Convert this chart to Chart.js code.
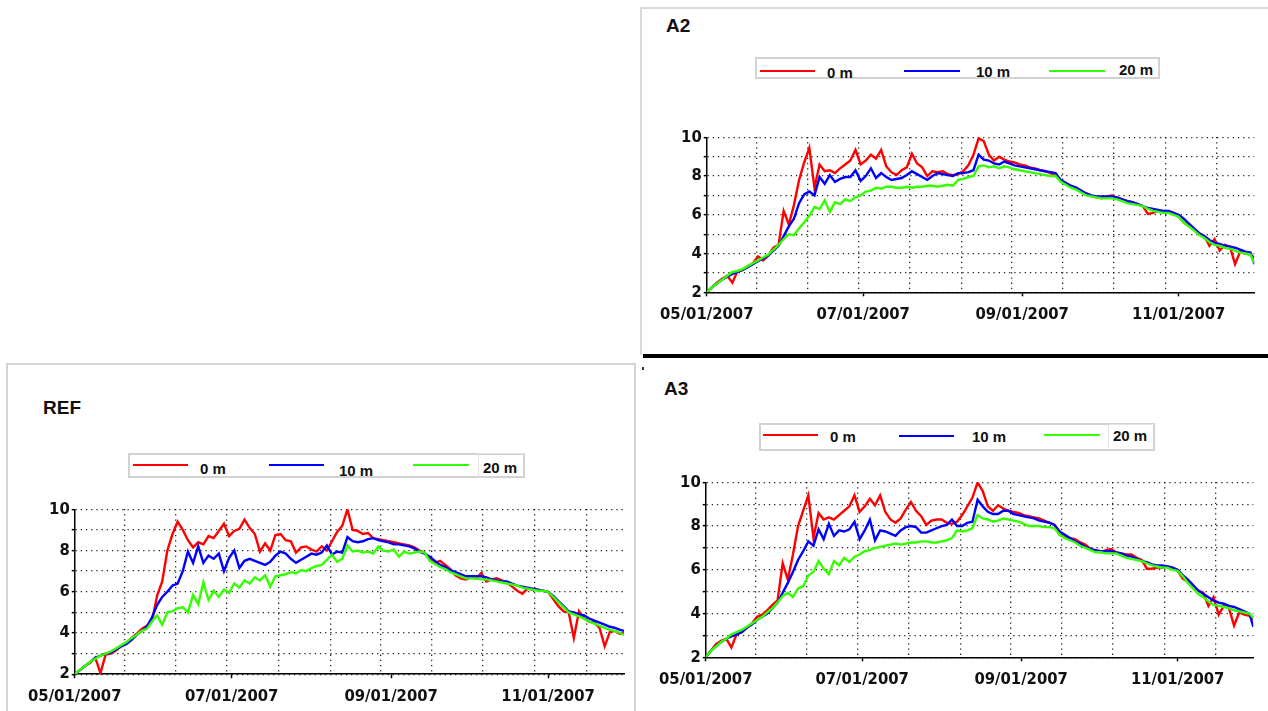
<!DOCTYPE html>
<html>
<head>
<meta charset="utf-8">
<script src="https://cdn.jsdelivr.net/npm/chart.js@4.4.1/dist/chart.umd.min.js"></script>
<style>
  html, body { margin: 0; padding: 0; background: #fff; }
  body { width: 1268px; height: 711px; position: relative; overflow: hidden; font-family: "Liberation Sans", Arial, sans-serif; }
  canvas { position: absolute; }
  .frame { position: absolute; box-sizing: border-box; }
  .ttl { position: absolute; font-weight: bold; font-size: 19px; line-height: 20px; color: #111; }
  .lgbox { position: absolute; box-sizing: border-box; border: 2px solid #d2d2d2; }
  .lgsub { position: absolute; box-sizing: border-box; border-left: 1px solid #e2e2e2; border-top: 1px solid #e2e2e2; }
  .lgline { position: absolute; height: 2px; }
  .lgtxt { position: absolute; font-weight: bold; font-size: 15px; line-height: 15px; color: #111; white-space: nowrap; }
</style>
</head>
<body>
<!-- panel frames -->
<div class="frame" style="left:6px;top:363px;width:630px;height:400px;border:2px solid #d4d4d4;"></div>
<div class="frame" style="left:640px;top:7px;width:700px;height:348px;border-left:2px solid #dadada;border-top:2px solid #dadada;"></div>
<div class="frame" style="left:643px;top:354px;width:625px;height:4px;background:#000;"></div>
<div class="frame" style="left:642px;top:367px;width:2px;height:3px;background:#333;"></div>

<!-- titles -->
<div class="ttl" style="left:666px;top:16px;">A2</div>
<div class="ttl" style="left:664px;top:379px;">A3</div>
<div class="ttl" style="left:43px;top:398px;">REF</div>

<!-- legend A2 -->
<div class="lgbox" style="left:755px;top:57px;width:405px;height:22px;"></div>
<div class="lgline" style="left:760px;top:70px;width:55px;background:#ff0000;"></div>
<div class="lgtxt" style="left:827px;top:65px;">0 m</div>
<div class="lgline" style="left:904px;top:70px;width:56px;background:#0000ff;"></div>
<div class="lgtxt" style="left:976px;top:64px;">10 m</div>
<div class="lgline" style="left:1049px;top:70px;width:56px;background:#33ff00;"></div>
<div class="lgtxt" style="left:1119px;top:62px;">20 m</div>

<!-- legend A3 -->
<div class="lgbox" style="left:759px;top:423px;width:396px;height:28px;"></div>
<div class="lgsub" style="left:1108px;top:424px;width:46px;height:26px;"></div>
<div class="lgline" style="left:763px;top:434px;width:55px;background:#ff0000;"></div>
<div class="lgtxt" style="left:830px;top:429px;">0 m</div>
<div class="lgline" style="left:899px;top:435px;width:55px;background:#0000ff;"></div>
<div class="lgtxt" style="left:972px;top:429px;">10 m</div>
<div class="lgline" style="left:1044px;top:434px;width:56px;background:#33ff00;"></div>
<div class="lgtxt" style="left:1113px;top:428px;">20 m</div>

<!-- legend REF -->
<div class="lgbox" style="left:128px;top:453px;width:397px;height:25px;"></div>
<div class="lgsub" style="left:478px;top:453px;width:47px;height:25px;"></div>
<div class="lgline" style="left:133px;top:464px;width:55px;background:#ff0000;"></div>
<div class="lgtxt" style="left:200px;top:461px;">0 m</div>
<div class="lgline" style="left:269px;top:464px;width:55px;background:#0000ff;"></div>
<div class="lgtxt" style="left:339px;top:463px;">10 m</div>
<div class="lgline" style="left:413px;top:464px;width:56px;background:#33ff00;"></div>
<div class="lgtxt" style="left:483px;top:460px;">20 m</div>

<canvas id="cA2" width="614" height="206" style="left:651px;top:123px;"></canvas>
<canvas id="cA3" width="614" height="226" style="left:650px;top:468px;"></canvas>
<canvas id="cRef" width="615" height="216" style="left:19px;top:495px;"></canvas>

<script>
// days since 05/01/2007
const days = [0,2,4,6,8,10,12,14,16,18,
  20,22,24,26,28,30,32,34,36,38,
  40,42,44,46,48,50,52,54,56,58,
  60,62,64,66,68,70,72,74,76,78,
  80,82,84,86,88,90,92,94,96,98,
  100,102,104,106,108,110,112,114,116,118,
  120,122,124,126,128,130,132,134,136,138,
  140,142,144,146,148,150,152,154,156,158,
  160,162,164,166,168,170,172,174,176,178,
  180,182,184,186,188,190,192,194,196,198,
  200,202,204,206,208,210,212,213.5];

const monthDays = [0, 61, 123, 184];
const monthLabels = ["05/01/2007", "07/01/2007", "09/01/2007", "11/01/2007"];
const gridDays = [19.3, 39.3, 59.2, 79.2, 99.3, 119, 138.8, 158.6, 178.9, 198.9];

// REF
const refRed = [2.0,2.2,2.4,2.55,2.8,2.05,2.95,3.0,3.15,3.35,
  3.5,3.75,3.95,4.2,4.35,4.55,5.8,6.5,8.0,8.8,
  9.4,9.0,8.5,8.15,8.4,8.3,8.7,8.6,8.95,9.3,
  8.7,8.95,9.05,9.5,9.1,8.8,7.95,8.35,8.0,8.75,
  8.8,8.5,8.45,7.9,8.15,8.2,8.05,7.95,8.2,8.0,
  8.45,8.9,9.2,10.0,9.0,8.95,8.8,8.85,8.6,8.55,
  8.5,8.45,8.4,8.35,8.3,8.25,8.15,8.0,7.9,7.55,
  7.4,7.5,7.3,7.1,6.8,6.65,6.6,6.7,6.65,6.9,
  6.5,6.6,6.65,6.55,6.45,6.25,6.05,5.9,6.15,6.1,
  6.1,6.05,6.0,5.65,5.3,5.05,5.0,3.75,5.05,4.7,
  4.55,4.5,4.25,3.35,4.05,4.1,3.95,4.0];
const refBlue = [2.0,2.2,2.4,2.6,2.8,2.9,3.0,3.05,3.2,3.35,
  3.45,3.65,3.9,4.1,4.3,4.75,5.35,5.75,6.0,6.3,
  6.4,7.0,7.95,7.4,8.2,7.4,7.75,7.6,7.85,7.0,
  7.65,8.0,7.15,7.5,7.6,7.5,7.4,7.3,7.45,7.75,
  7.95,7.85,7.6,7.4,7.55,7.7,7.85,7.8,7.9,8.25,
  7.8,7.95,7.9,8.65,8.45,8.4,8.45,8.55,8.6,8.5,
  8.45,8.4,8.3,8.3,8.25,8.2,8.1,7.95,7.85,7.7,
  7.5,7.3,7.2,7.05,6.95,6.85,6.75,6.75,6.75,6.75,
  6.7,6.6,6.55,6.5,6.5,6.4,6.3,6.25,6.2,6.15,
  6.1,6.05,6.0,5.8,5.55,5.3,5.05,5.0,4.9,4.85,
  4.7,4.6,4.5,4.4,4.3,4.25,4.15,4.1];
const refGreen = [2.0,2.2,2.4,2.6,2.75,2.9,3.0,3.1,3.25,3.4,
  3.55,3.75,3.9,4.1,4.2,4.55,4.85,4.4,5.0,5.05,
  5.2,5.25,5.0,5.85,5.4,6.45,5.6,6.05,5.75,6.1,
  5.95,6.4,6.2,6.55,6.4,6.7,6.55,6.8,6.25,6.75,
  6.8,6.85,6.95,6.9,7.05,7.0,7.15,7.25,7.3,7.55,
  7.8,7.45,7.6,8.25,7.95,8.0,7.9,7.95,7.85,8.2,
  8.0,7.95,8.05,7.7,7.95,7.85,7.9,7.95,7.9,7.5,
  7.35,7.2,7.1,6.95,6.85,6.75,6.65,6.65,6.65,6.6,
  6.6,6.55,6.5,6.45,6.4,6.35,6.3,6.2,6.15,6.1,
  6.05,6.05,6.0,5.75,5.5,5.25,5.0,4.9,4.8,4.7,
  4.55,4.45,4.35,4.25,4.15,4.1,4.0,3.9];

// A2
const a2Red = [2.0,2.25,2.5,2.7,2.85,2.5,3.1,3.15,3.35,3.5,
  3.85,3.65,3.9,4.3,4.45,6.2,5.5,6.5,7.8,8.7,
  9.45,7.4,8.6,8.25,8.3,8.15,8.4,8.6,8.8,9.35,
  8.6,8.8,9.1,8.9,9.35,8.5,8.2,8.05,8.3,8.45,
  9.15,8.65,8.45,8.0,8.25,8.2,8.25,8.1,8.05,8.1,
  8.25,8.55,9.1,9.95,9.8,9.1,8.8,9.0,8.85,8.75,
  8.7,8.6,8.55,8.45,8.4,8.3,8.25,8.15,8.05,7.75,
  7.6,7.45,7.4,7.2,7.1,6.95,6.9,6.85,6.95,7.0,
  6.85,6.8,6.7,6.65,6.55,6.45,6.05,6.1,6.2,6.15,
  6.2,6.1,5.9,5.6,5.45,5.25,5.05,4.9,4.4,4.75,
  4.15,4.45,4.35,3.45,4.1,4.0,3.95,3.8];
const a2Blue = [2.0,2.25,2.45,2.65,2.8,2.95,3.05,3.15,3.3,3.45,
  3.6,3.75,3.9,4.15,4.4,4.9,5.4,5.8,6.6,7.05,
  7.2,7.0,7.95,7.6,8.05,7.7,7.85,7.95,7.95,8.3,
  7.75,8.0,8.4,7.9,8.15,7.95,7.8,7.85,7.9,8.05,
  8.25,8.1,7.95,7.8,8.0,8.15,8.1,8.05,8.0,8.15,
  8.15,8.2,8.3,9.1,8.85,8.8,8.65,8.6,8.75,8.65,
  8.55,8.5,8.45,8.4,8.35,8.3,8.25,8.2,8.15,7.8,
  7.65,7.5,7.4,7.25,7.1,7.0,6.95,6.95,6.95,6.95,
  6.9,6.8,6.7,6.65,6.55,6.45,6.35,6.3,6.25,6.2,
  6.2,6.1,6.0,5.8,5.55,5.3,5.05,4.9,4.7,4.55,
  4.5,4.4,4.35,4.3,4.2,4.1,4.05,3.45];
const a2Green = [2.0,2.25,2.45,2.65,2.85,3.05,3.1,3.2,3.35,3.5,
  3.65,3.8,3.95,4.2,4.45,4.75,5.0,4.95,5.3,5.6,
  5.95,6.4,6.3,6.75,6.15,6.65,6.55,6.8,6.7,6.9,
  7.0,7.2,7.25,7.4,7.35,7.45,7.45,7.4,7.4,7.45,
  7.4,7.45,7.45,7.5,7.5,7.45,7.5,7.55,7.5,7.8,
  7.85,7.95,8.0,8.5,8.55,8.45,8.5,8.4,8.5,8.45,
  8.35,8.3,8.25,8.2,8.15,8.1,8.05,8.0,8.0,7.7,
  7.55,7.4,7.3,7.15,7.0,6.95,6.9,6.85,6.85,6.85,
  6.8,6.7,6.6,6.55,6.5,6.45,6.3,6.2,6.15,6.1,
  6.1,6.0,5.9,5.6,5.4,5.2,4.95,4.8,4.6,4.45,
  4.4,4.3,4.25,4.15,4.05,4.0,3.95,3.5];

// A3
const a3Red = [2.0,2.3,2.6,2.75,2.85,2.45,3.05,3.15,3.35,3.55,
  3.85,3.95,4.15,4.4,4.6,6.3,5.55,6.7,8.0,8.7,
  9.4,7.45,8.6,8.3,8.4,8.3,8.5,8.7,8.9,9.4,
  8.65,8.9,9.25,8.95,9.4,8.65,8.3,8.15,8.35,8.75,
  9.1,8.7,8.45,8.05,8.25,8.3,8.3,8.15,8.1,8.2,
  8.5,8.9,9.3,10.0,9.6,8.9,8.7,8.95,8.8,8.7,
  8.65,8.6,8.5,8.45,8.4,8.35,8.25,8.15,8.05,7.6,
  7.5,7.45,7.4,7.25,7.15,6.95,6.85,6.8,6.9,6.95,
  6.8,6.75,6.7,6.7,6.55,6.45,6.05,6.05,6.1,6.1,
  6.15,6.1,5.95,5.6,5.45,5.25,5.05,4.95,4.35,4.75,
  3.95,4.35,4.25,3.45,4.05,3.95,3.9,3.75];
const a3Blue = [2.0,2.3,2.5,2.7,2.85,2.95,3.05,3.15,3.35,3.5,
  3.7,3.85,4.0,4.25,4.5,4.95,5.4,5.9,6.45,6.85,
  7.3,7.1,7.85,7.4,8.1,7.55,7.8,7.75,7.85,8.2,
  7.4,7.8,8.3,7.35,7.8,7.75,7.65,7.55,7.8,7.95,
  8.0,7.95,7.7,7.7,7.8,7.9,8.0,8.05,8.3,8.0,
  8.0,8.15,8.2,9.2,8.9,8.65,8.55,8.55,8.7,8.7,
  8.55,8.5,8.45,8.4,8.35,8.25,8.2,8.15,8.05,7.75,
  7.6,7.45,7.3,7.2,7.05,6.95,6.9,6.85,6.85,6.85,
  6.8,6.75,6.65,6.6,6.5,6.4,6.35,6.25,6.2,6.2,
  6.15,6.1,6.0,5.75,5.55,5.3,5.05,4.9,4.75,4.6,
  4.5,4.45,4.35,4.3,4.2,4.1,4.0,3.4];
const a3Green = [2.0,2.3,2.5,2.7,2.85,3.05,3.15,3.25,3.4,3.55,
  3.7,3.85,4.05,4.25,4.5,4.8,4.95,4.75,5.15,5.25,
  5.75,5.9,6.4,6.05,5.8,6.4,6.2,6.55,6.35,6.6,
  6.7,6.85,6.9,7.0,7.05,7.1,7.15,7.2,7.15,7.2,
  7.25,7.25,7.3,7.3,7.25,7.25,7.3,7.35,7.45,7.8,
  7.75,7.8,7.9,8.5,8.35,8.3,8.2,8.25,8.35,8.3,
  8.25,8.2,8.1,8.0,8.0,8.0,7.95,7.95,7.9,7.6,
  7.45,7.35,7.25,7.1,7.0,6.9,6.8,6.8,6.75,6.75,
  6.75,6.65,6.55,6.5,6.45,6.4,6.3,6.2,6.15,6.1,
  6.1,6.0,5.95,5.7,5.4,5.15,4.9,4.75,4.55,4.4,
  4.35,4.3,4.25,4.15,4.1,4.05,4.0,3.8];

const RED = "#ff0000";
const BLUE = "#0000ff";
const GREEN = "#33ff00";
const GRID = "rgba(0,0,0,0.85)";
const tickFont = { family: "'DejaVu Sans Condensed', 'DejaVu Sans', sans-serif", size: 16.5, weight: "bold" };

function pts(vals) {
  return days.map((d, i) => ({ x: d, y: vals[i] }));
}

function makeChart(id, red, blue, green, g) {
  return new Chart(document.getElementById(id), {
    type: "line",
    data: {
      datasets: [
        { label: "0 m", data: pts(red), borderColor: RED, backgroundColor: RED, order: 3 },
        { label: "10 m", data: pts(blue), borderColor: BLUE, backgroundColor: BLUE, order: 2 },
        { label: "20 m", data: pts(green), borderColor: GREEN, backgroundColor: GREEN, order: 1 },
      ],
    },
    options: {
      responsive: false,
      animation: false,
      events: [],
      layout: { padding: { left: 0, right: g.padRight, top: g.padTop, bottom: 0 } },
      elements: {
        point: { radius: 0 },
        line: { borderWidth: 2.4, tension: 0 },
      },
      plugins: { legend: { display: false }, tooltip: { enabled: false }, title: { display: false } },
      scales: {
        x: {
          type: "linear",
          min: 0,
          max: 213.5,
          afterBuildTicks: (s) => { s.ticks = monthDays.map((v) => ({ value: v })); },
          afterFit: (s) => { s.height = g.xh; },
          ticks: {
            autoSkip: false,
            maxRotation: 0,
            padding: 9,
            color: "#111",
            font: tickFont,
            callback: (v) => monthLabels[monthDays.indexOf(v)],
          },
          grid: { drawOnChartArea: false, drawTicks: true, tickLength: 4, tickColor: "#000", tickWidth: 1.5 },
          border: { display: true, color: "#000", width: 1.5 },
        },
        x2: {
          type: "linear",
          position: "top",
          min: 0,
          max: 213.5,
          afterBuildTicks: (s) => { s.ticks = gridDays.map((v) => ({ value: v })); },
          afterFit: (s) => { s.height = 0; },
          ticks: { display: false },
          grid: { drawTicks: false, color: GRID, lineWidth: 1.3 },
          border: { display: false, dash: [1.3, 3.9] },
        },
        y: {
          min: 2,
          max: 10,
          afterFit: (s) => { s.width = g.yw; },
          ticks: {
            stepSize: 1,
            autoSkip: false,
            padding: 2,
            color: "#111",
            font: tickFont,
            callback: (v) => (v % 2 === 0 ? String(v) : ""),
          },
          grid: { color: GRID, lineWidth: 1.3, tickLength: 3, tickColor: "#000", tickWidth: 1.5 },
          border: { display: true, color: "#000", width: 1.5, dash: [1.3, 3.9] },
        },
      },
    },
  });
}

makeChart("cA2", a2Red, a2Blue, a2Green, { padRight: 10.7, padTop: 14.3, xh: 36.7, yw: 52 });
makeChart("cA3", a3Red, a3Blue, a3Green, { padRight: 10.7, padTop: 14.3, xh: 36.7, yw: 52 });
makeChart("cRef", refRed, refBlue, refGreen, { padRight: 10, padTop: 14.3, xh: 36.8, yw: 52.4 });
</script>
</body>
</html>
